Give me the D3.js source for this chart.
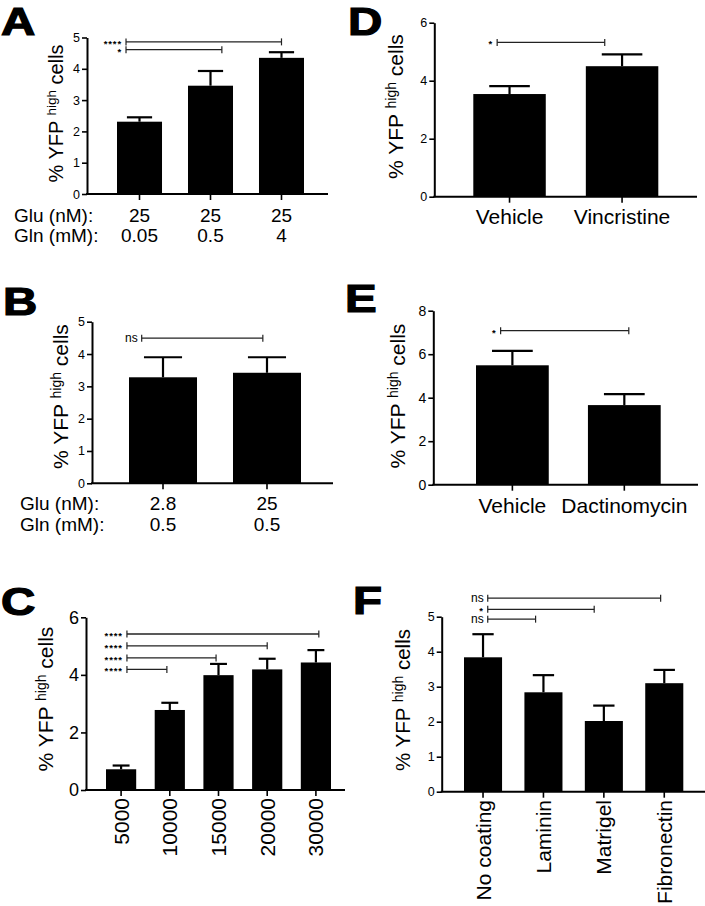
<!DOCTYPE html>
<html><head><meta charset="utf-8">
<script src="https://cdn.jsdelivr.net/npm/d3@7"></script>
<style>
body{margin:0;background:#fff}
svg{display:block}
text{font-family:"Liberation Sans",Arial,Helvetica,sans-serif;fill:#000;-webkit-font-smoothing:antialiased}
</style>
</head><body>
<svg id="chart" width="705" height="906"></svg>
<script>
// ---------------- DATA ----------------
// Panel A
const aGln = ["0.05", "0.5", "4"];
const aGlu = ["25", "25", "25"];
const aMeans = [2.31, 3.46, 4.35];
const aErrTop = [2.45, 3.93, 4.53];
const aTicks = [0, 1, 2, 3, 4, 5];
const aSig = [
  {label: "****", from: -0.19, to: 2.0, y: 4.86},
  {label: "*", from: -0.19, to: 1.16, y: 4.61}
];
// Panel B
const bGlu = ["2.8", "25"];
const bGln = ["0.5", "0.5"];
const bMeans = [3.28, 3.42];
const bErrTop = [3.9, 3.9];
const bTicks = [0, 1, 2, 3, 4, 5];
const bSig = [{label: "ns", from: -0.205, to: 0.96, y: 4.49}];
// Panel C
const cCats = ["5000", "10000", "15000", "20000", "30000"];
const cMeans = [0.72, 2.78, 3.99, 4.19, 4.43];
const cErrTop = [0.85, 3.03, 4.38, 4.56, 4.86];
const cTicks = [0, 2, 4, 6];
const cSig = [
  {label: "****", from: 0.12, to: 4.06, y: 5.42},
  {label: "****", from: 0.12, to: 3.0, y: 5.01},
  {label: "****", from: 0.12, to: 1.95, y: 4.59},
  {label: "****", from: 0.12, to: 0.94, y: 4.19}
];
// Panel D
const dCats = ["Vehicle", "Vincristine"];
const dMeans = [3.54, 4.50];
const dErrTop = [3.81, 4.91];
const dTicks = [0, 2, 4, 6];
const dSig = [{label: "*", from: -0.11, to: 0.846, y: 5.32}];
// Panel E
const eCats = ["Vehicle", "Dactinomycin"];
const eMeans = [5.49, 3.66];
const eErrTop = [6.15, 4.16];
const eTicks = [0, 2, 4, 6, 8];
const eSig = [{label: "*", from: -0.105, to: 1.04, y: 7.08}];
// Panel F
const fCats = ["No coating", "Laminin", "Matrigel", "Fibronectin"];
const fMeans = [3.84, 2.84, 2.02, 3.10];
const fErrTop = [4.50, 3.33, 2.46, 3.48];
const fTicks = [0, 1, 2, 3, 4, 5];
const fSig = [
  {label: "ns", from: 0.078, to: 2.94, y: 5.53},
  {label: "*", from: 0.078, to: 1.84, y: 5.21},
  {label: "ns", from: 0.078, to: 0.87, y: 4.93}
];

// ---------------- DRAWING ----------------
const svg = d3.select("#chart");
svg.append("rect").attr("width", 705).attr("height", 906).attr("fill", "#fff");

function panel(cfg) {
  const g = svg.append("g");
  const x = d3.scaleBand().domain(cfg.cats).range([cfg.bx0, cfg.bx1])
    .paddingInner(cfg.pi).paddingOuter(0);
  const y = d3.scaleLinear().domain(cfg.yDomain).range([cfg.y0, cfg.y1]);
  const cx = d => x(d) + x.bandwidth() / 2;
  const idx = d3.scaleLinear().domain([0, 1])
    .range([cx(cfg.cats[0]), cx(cfg.cats[0]) + x.step()]);
  const data = cfg.cats.map((c, i) => ({c, m: cfg.means[i], e: cfg.err[i]}));

  // bars
  g.selectAll("rect.bar").data(data).join("rect").attr("class", "bar")
    .attr("x", d => x(d.c)).attr("y", d => y(d.m))
    .attr("width", x.bandwidth()).attr("height", d => y(0) - y(d.m))
    .attr("fill", "#000");
  // error bars
  const capW = x.bandwidth() * 0.56;
  g.selectAll("line.ev").data(data).join("line").attr("class", "ev")
    .attr("x1", d => cx(d.c)).attr("x2", d => cx(d.c))
    .attr("y1", d => y(d.m)).attr("y2", d => y(d.e))
    .attr("stroke", "#000").attr("stroke-width", 2.2);
  g.selectAll("line.cap").data(data).join("line").attr("class", "cap")
    .attr("x1", d => cx(d.c) - capW / 2).attr("x2", d => cx(d.c) + capW / 2)
    .attr("y1", d => y(d.e)).attr("y2", d => y(d.e))
    .attr("stroke", "#000").attr("stroke-width", 2.2);

  // y axis
  const ya = g.append("g").attr("transform", `translate(${cfg.ax},0)`)
    .call(d3.axisLeft(y).tickValues(cfg.ticks).tickSize(5).tickSizeOuter(0)
      .tickPadding(2).tickFormat(d3.format("d")));
  ya.select(".domain").attr("stroke-width", 2).attr("stroke", "#000");
  ya.selectAll(".tick line").attr("stroke-width", 1.6).attr("stroke", "#000");
  ya.selectAll(".tick text").attr("font-size", cfg.tickFont)
    .attr("font-family", '"Liberation Sans",Arial,sans-serif').attr("fill", "#000");

  // x axis
  g.append("line").attr("x1", cfg.ax - 1).attr("x2", cfg.axisEnd)
    .attr("y1", y(0)).attr("y2", y(0)).attr("stroke", "#000").attr("stroke-width", 2);
  const xa = g.append("g").attr("transform", `translate(0,${y(0)})`)
    .call(d3.axisBottom(x).tickSize(6).tickFormat(""));
  xa.select(".domain").remove();
  xa.selectAll(".tick line").attr("stroke-width", 1.6).attr("stroke", "#000");

  // significance brackets
  const sg = g.selectAll("g.sig").data(cfg.sig).join("g").attr("class", "sig");
  sg.append("line").attr("x1", d => idx(d.from)).attr("x2", d => idx(d.to))
    .attr("y1", d => y(d.y)).attr("y2", d => y(d.y))
    .attr("stroke", "#222").attr("stroke-width", 1.3);
  sg.append("line").attr("x1", d => idx(d.from)).attr("x2", d => idx(d.from))
    .attr("y1", d => y(d.y) - 3.5).attr("y2", d => y(d.y) + 3.5)
    .attr("stroke", "#222").attr("stroke-width", 1.2);
  sg.append("line").attr("x1", d => idx(d.to)).attr("x2", d => idx(d.to))
    .attr("y1", d => y(d.y) - 3.5).attr("y2", d => y(d.y) + 3.5)
    .attr("stroke", "#222").attr("stroke-width", 1.2);
  sg.append("text").attr("x", d => idx(d.from) - 4)
    .attr("y", d => y(d.y) + (d.label === "ns" ? 4 : 5))
    .attr("text-anchor", "end")
    .attr("font-size", d => d.label === "ns" ? 12 : 9.5)
    .attr("letter-spacing", d => d.label === "ns" ? 0 : 0.9)
    .attr("font-weight", d => d.label === "ns" ? "normal" : "bold")
    .text(d => d.label);

  // y label
  const yl = g.append("text")
    .attr("transform", `translate(${cfg.ylab.x},${cfg.ylab.cy}) rotate(-90)`)
    .attr("text-anchor", "middle").attr("font-size", cfg.ylab.size);
  yl.append("tspan").text("% YFP ");
  yl.append("tspan").attr("font-size", cfg.ylab.sup).attr("dy", -7).text("high");
  yl.append("tspan").attr("dy", 7).text(" cells");

  // panel letter
  g.append("text").attr("transform", `translate(${cfg.letter.x},${cfg.letter.y}) scale(1.25,1)`)
    .attr("font-size", 38).attr("font-weight", "bold")
    .attr("stroke", "#000").attr("stroke-width", 1.2)
    .text(cfg.letter.t);

  // category labels
  const L = cfg.labels;
  if (L.type === "rows") {
    L.rows.forEach((r, k) => {
      g.append("text").attr("x", L.hx).attr("y", L.base[k])
        .attr("font-size", L.size).text(r.header);
      g.selectAll(null).data(r.values).join("text")
        .attr("x", (d, i) => cx(cfg.cats[i])).attr("y", L.base[k])
        .attr("text-anchor", "middle").attr("font-size", L.size).text(d => d);
    });
  } else if (L.type === "horizontal") {
    g.selectAll(null).data(cfg.cats).join("text")
      .attr("x", d => cx(d)).attr("y", L.base)
      .attr("text-anchor", "middle").attr("font-size", L.size).text(d => d);
  } else {
    g.selectAll(null).data(cfg.cats).join("text")
      .attr("transform", d => `translate(${cx(d) + L.size * 0.36},${L.start}) rotate(-90)`)
      .attr("text-anchor", "end").attr("font-size", L.size).text(d => d);
  }
}

panel({
  cats: aGln, means: aMeans, err: aErrTop, yDomain: [0, 5], ticks: aTicks, sig: aSig,
  ax: 87, y0: 194, y1: 37.5, bx0: 117, bx1: 304, pi: 0.366, axisEnd: 328, tickFont: 12.5,
  ylab: {x: 63, cy: 113.5, size: 20, sup: 13.5},
  letter: {t: "A", x: 1, y: 35},
  labels: {type: "rows", hx: 14, base: [222, 242], size: 19,
    rows: [{header: "Glu (nM):", values: aGlu}, {header: "Gln (mM):", values: aGln}]}
});
panel({
  cats: bGlu, means: bMeans, err: bErrTop, yDomain: [0, 5], ticks: bTicks, sig: bSig,
  ax: 92, y0: 483.3, y1: 321.7, bx0: 129, bx1: 301, pi: 0.346, axisEnd: 333, tickFont: 12.5,
  ylab: {x: 68, cy: 396.5, size: 21, sup: 14},
  letter: {t: "B", x: 3, y: 315},
  labels: {type: "rows", hx: 20, base: [510, 531], size: 19,
    rows: [{header: "Glu (nM):", values: bGlu}, {header: "Gln (mM):", values: bGln}]}
});
panel({
  cats: cCats, means: cMeans, err: cErrTop, yDomain: [0, 6], ticks: cTicks, sig: cSig,
  ax: 86, y0: 790, y1: 617.3, bx0: 106, bx1: 331, pi: 0.38, axisEnd: 345, tickFont: 18,
  ylab: {x: 53, cy: 699, size: 21, sup: 14},
  letter: {t: "C", x: 1, y: 615},
  labels: {type: "rotated", start: 798, size: 21}
});
panel({
  cats: dCats, means: dMeans, err: dErrTop, yDomain: [0, 6], ticks: dTicks, sig: dSig,
  ax: 434.3, y0: 196.7, y1: 22.7, bx0: 473.3, bx1: 658.3, pi: 0.356, axisEnd: 697, tickFont: 12.5,
  ylab: {x: 403, cy: 106.5, size: 21, sup: 14},
  letter: {t: "D", x: 348, y: 35},
  labels: {type: "horizontal", base: 224, size: 21}
});
panel({
  cats: eCats, means: eMeans, err: eErrTop, yDomain: [0, 8], ticks: eTicks, sig: eSig,
  ax: 433.3, y0: 484.7, y1: 310.7, bx0: 476, bx1: 660.7, pi: 0.35, axisEnd: 698, tickFont: 14,
  ylab: {x: 405, cy: 396, size: 21, sup: 14},
  letter: {t: "E", x: 345, y: 311.7},
  labels: {type: "horizontal", base: 513.3, size: 21}
});
panel({
  cats: fCats, means: fMeans, err: fErrTop, yDomain: [0, 5], ticks: fTicks, sig: fSig,
  ax: 441.7, y0: 791.7, y1: 616.7, bx0: 464, bx1: 683.3, pi: 0.37, axisEnd: 705, tickFont: 12.5,
  ylab: {x: 410, cy: 700, size: 20.5, sup: 14},
  letter: {t: "F", x: 353, y: 614},
  labels: {type: "rotated", start: 800, size: 21}
});
</script>
</body></html>
